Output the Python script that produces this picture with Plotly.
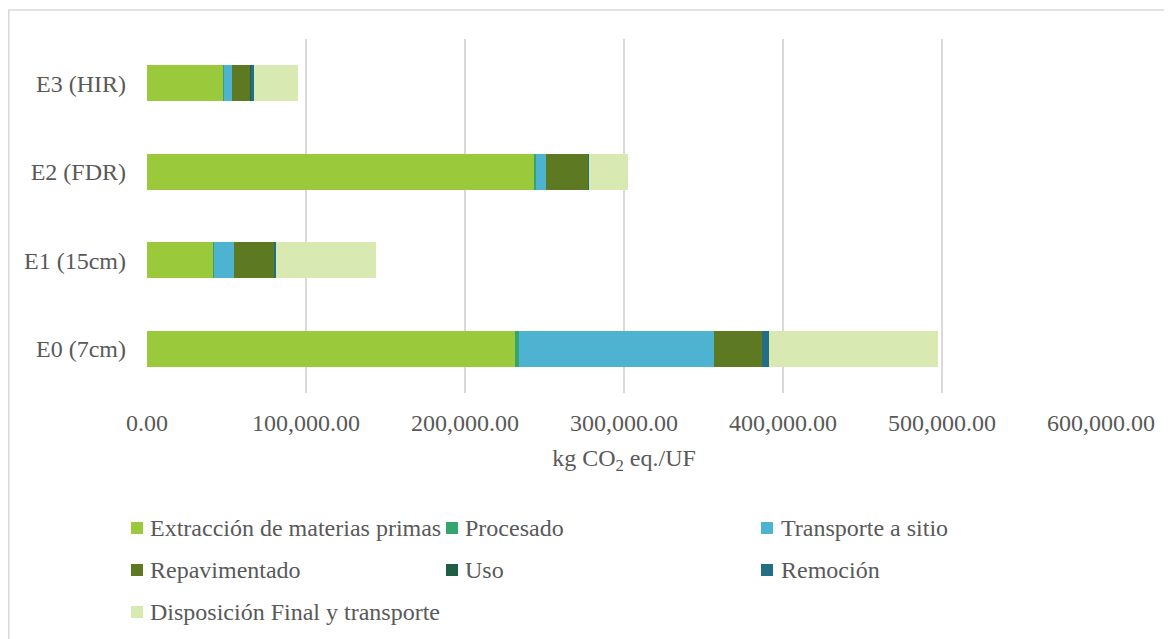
import plotly.graph_objects as go

categories = ["E0 (7cm)", "E1 (15cm)", "E2 (FDR)", "E3 (HIR)"]
series_names = ["Extracción de materias primas", "Procesado", "Transporte a sitio",
                "Repavimentado", "Uso", "Remoción", "Disposición Final y transporte"]
extraccion = [231600, 42100, 244000, 48000]
procesado = [2500, 300, 800, 300]
transporte = [122400, 12100, 6200, 5300]
repavimentado = [30400, 25600, 26400, 11700]
uso = [200, 200, 200, 200]
remocion = [4000, 1000, 600, 1500]
disposicion = [106500, 62500, 24100, 27900]
values = [extraccion, procesado, transporte, repavimentado, uso, remocion, disposicion]
colors = ["#9ACA3C", "#36A46F", "#4DB3D1", "#5D7A22", "#1F5E45", "#236E85", "#D8E9B2"]
x_ticks = [0, 100000, 200000, 300000, 400000, 500000, 600000]

FONT = "Times New Roman, Liberation Serif, DejaVu Serif, serif"
FS = 24
GREY = "#595959"
OFF = 8  # page body margin
W, H = 1172 - OFF, 639 - OFF
L, R, T, B = 147 - OFF, 71, 39 - OFF, 246
pw, ph = W - L - R, H - T - B

def px_x(p):
    return (p - OFF - L) / pw

def px_y(p):
    return (H - B - (p - OFF)) / ph

fig = go.Figure()
for name, vals, col in zip(series_names, values, colors):
    fig.add_trace(go.Bar(y=categories, x=vals, name=name, orientation="h",
                         marker=dict(color=col, line=dict(width=0)), showlegend=False))

# manual legend (3 columns)
col_marker = [131, 446, 761]
col_text = [148, 463, 779]
row_y = [528, 570, 612]
shapes = []
annotations = []
for i, (name, col) in enumerate(zip(series_names, colors)):
    r, c = divmod(i, 3)
    mx, my = col_marker[c], row_y[r]
    shapes.append(dict(type="rect", xref="paper", yref="paper",
                       x0=px_x(mx), x1=px_x(mx + 12), y0=px_y(my + 6), y1=px_y(my - 6),
                       fillcolor=col, line=dict(width=0)))
    annotations.append(dict(xref="paper", yref="paper", x=px_x(col_text[c]), y=px_y(my),
                            xanchor="left", yanchor="middle", text=name, showarrow=False,
                            font=dict(family=FONT, size=FS, color=GREY)))

# outer border
shapes.append(dict(type="rect", xref="paper", yref="paper",
                   x0=px_x(8.8), x1=px_x(1200), y0=px_y(680), y1=px_y(10),
                   line=dict(color="#D9D9D9", width=1.5), fillcolor="rgba(0,0,0,0)", layer="below"))

fig.update_layout(
    barmode="stack",
    bargap=0.59,
    width=W, height=H,
    margin=dict(l=L, r=R, t=T, b=B, autoexpand=False),
    paper_bgcolor="white", plot_bgcolor="white",
    font=dict(family=FONT, size=FS, color=GREY),
    shapes=shapes,
    annotations=annotations,
    xaxis=dict(range=[0, 600000], tickvals=x_ticks, tickformat=",.2f",
               showgrid=True, gridcolor="#D9D9D9", gridwidth=1.5,
               zeroline=False, showline=False, ticks="",
               ticklabelstandoff=13,
               title=dict(text="kg CO<sub>2</sub> eq./UF", standoff=14,
                          font=dict(family=FONT, size=FS, color=GREY)),
               tickfont=dict(family=FONT, size=FS, color=GREY)),
    yaxis=dict(showgrid=False, zeroline=False, showline=False, ticks="",
               ticklabelstandoff=20,
               tickfont=dict(family=FONT, size=FS, color=GREY)),
)

fig.write_html("out.html")
